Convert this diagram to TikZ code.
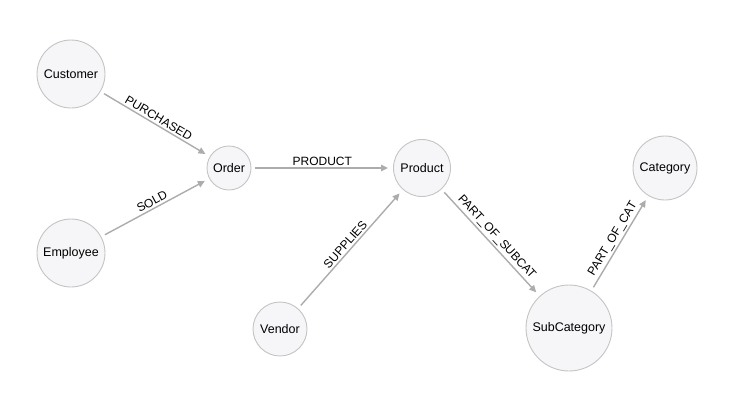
\documentclass[tikz,border=0pt]{standalone}
\usepackage{fontspec}
\setmainfont{Liberation Sans}
\usepackage{tikz}
\usetikzlibrary{arrows.meta,positioning}
\usepackage{xcolor}
\definecolor{nodefill}{RGB}{246,246,248}
\definecolor{nodeline}{RGB}{196,196,196}
\definecolor{edgegray}{RGB}{172,172,172}
\tikzstyle{rel} = [line width=1.4pt, -{Triangle[length=7pt,width=6.5pt]}, color=edgegray, shorten <=4pt, shorten >=5pt]
\tikzstyle{entity} = [circle, inner sep=0pt, draw=nodeline, fill=nodefill, line width=0.9pt, text=black, font=\fontsize{12.5}{14}\selectfont]
\tikzstyle{rellabel} = [sloped, above, inner sep=2pt, text=black, font=\fontsize{12}{14}\selectfont]

\begin{document}
\begin{tikzpicture}[x=1pt, y=-1pt]
\useasboundingbox (0,0) rectangle (742,410);
% Entities
\node[entity, minimum size=68pt] (customer) at (71,74) {Customer};
\node[entity, minimum size=68pt] (employee) at (71,253) {Employee};
\node[entity, minimum size=44pt] (order) at (229,168) {Order};
\node[entity, minimum size=57pt] (product) at (422,168) {Product};
\node[entity, minimum size=54pt] (vendor) at (280,329) {Vendor};
\node[entity, minimum size=86pt] (subcat) at (569,328) {SubCategory};
\node[entity, minimum size=64pt] (category) at (665,168) {Category};

% Relations
\draw[rel] (customer) -- node[rellabel] {PURCHASED} (order);
\draw[rel] (employee) -- node[rellabel] {SOLD} (order);
\draw[rel] (order) -- node[rellabel] {PRODUCT} (product);
\draw[rel] (vendor) -- node[rellabel] {SUPPLIES} (product);
\draw[rel] (product) -- node[rellabel] {PART\_OF\_SUBCAT} (subcat);
\draw[rel] (subcat) -- node[rellabel] {PART\_OF\_CAT} (category);
\end{tikzpicture}
\end{document}
